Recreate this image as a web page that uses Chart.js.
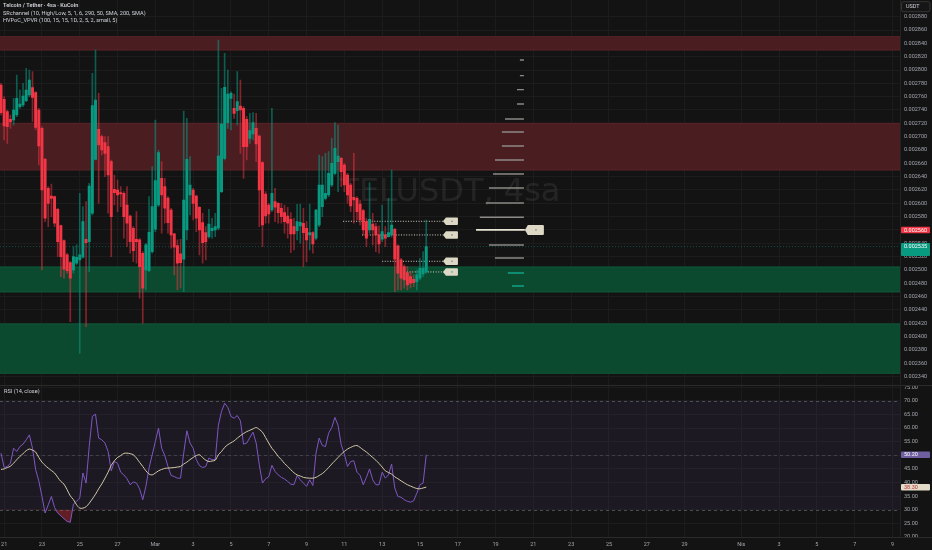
<!DOCTYPE html>
<html><head><meta charset="utf-8">
<script src="https://cdn.jsdelivr.net/npm/chart.js@4/dist/chart.umd.min.js"></script>
<style>html,body{margin:0;padding:0;background:#131313;overflow:hidden}canvas{display:block}</style>
</head><body>
<canvas id="c" width="932" height="550"></canvas>
<script>
// ---------- DATA (TELUSDT, 4h, KuCoin) ----------
const openVals = [0.0027775,0.002756,0.0027375,0.002726,0.002725,0.0027325,0.002745,0.0027475,0.002754,0.0027625,
0.0027735,0.002766,0.00274,0.0027125,0.002666,0.0026225,0.002611,0.00261,0.002591,0.0025665,
0.002544,0.0025225,0.002511,0.0025,0.00251,0.002515,0.002519,0.002546,0.0025425,0.002585,
0.002666,0.002711,0.0027,0.002691,0.002685,0.0026625,0.002621,0.00262,0.002616,0.002615,
0.0025975,0.002581,0.0025625,0.002546,0.002545,0.002525,0.0025,0.002499,0.0025275,0.002561,
0.0025975,0.0026375,0.002625,0.002608,0.00259,0.002554,0.0025365,0.002524,0.002516,0.00256,
0.0026125,0.00262,0.002611,0.002594,0.002571,0.002556,0.00255,0.002559,0.00256,0.0025625,
0.0026175,0.0026675,0.002721,0.0027575,0.0027425,0.002739,0.002746,0.0027425,0.002726,0.0026975,
0.002704,0.0027125,0.002701,0.002661,0.002614,0.0025975,0.00259,0.0026025,0.0026,0.0025925,
0.002586,0.002581,0.002576,0.002565,0.002559,0.002566,0.00257,0.0025625,0.0025525,0.002556,
0.0025475,0.0025675,0.002595,0.0026075,0.0026125,0.0026275,0.002645,0.0026625,0.0026675,0.0026575,
0.0026425,0.0026275,0.002609,0.0026075,0.002599,0.002589,0.0025725,0.00256,0.002569,0.002565,
0.0025525,0.002546,0.0025525,0.00255,0.0025525,0.002561,0.002536,0.002515,0.002505,0.002496,
0.00249,0.002486,0.0024825,0.0024875,0.002494,0.0024975];
const highVals = [0.00278,0.00276,0.00274,0.0027325,0.0027575,0.0027925,0.00277,0.00278,0.0028025,0.0028,
0.0027975,0.0027675,0.0027425,0.002715,0.0026675,0.002625,0.002629,0.002611,0.0025925,0.0025675,
0.002545,0.002525,0.0025125,0.002535,0.0025375,0.002615,0.002595,0.0026025,0.00263,0.002795,
0.00283,0.002765,0.0027025,0.0027,0.0027,0.002665,0.0026425,0.002635,0.002625,0.0026175,
0.002625,0.0025825,0.002565,0.0025875,0.0025475,0.0025275,0.00254,0.00261,0.002655,0.002725,
0.00268,0.0026625,0.0026375,0.00261,0.0025925,0.002555,0.002545,0.002546,0.0027385,0.0027275,
0.00267,0.0026225,0.0026125,0.002595,0.002585,0.002565,0.002591,0.0025775,0.002585,0.002845,
0.0027725,0.002825,0.0028,0.0027675,0.002764,0.0027975,0.002785,0.002745,0.00273,0.002735,
0.002736,0.002735,0.0027025,0.0026625,0.0026175,0.0026,0.0027425,0.0026225,0.002601,0.0026,
0.0025975,0.002594,0.002586,0.0025775,0.0025985,0.002599,0.0025925,0.0025725,0.002599,0.0025575,
0.002591,0.0026725,0.00267,0.002675,0.0026775,0.0026975,0.002721,0.0027175,0.002669,0.00266,
0.002645,0.00263,0.002675,0.00261,0.002605,0.002591,0.0025775,0.002631,0.002585,0.00257,
0.002566,0.0025975,0.002565,0.0026075,0.00265,0.0025625,0.0025375,0.0025175,0.0025075,0.002505,
0.0024975,0.0024925,0.0025,0.0025175,0.0025275,0.002575];
const lowVals = [0.0027325,0.002695,0.00269,0.0027125,0.0027175,0.00273,0.0027425,0.002745,0.0027525,0.00276,
0.0027225,0.00271,0.0026575,0.0025,0.0025725,0.002565,0.00258,0.002565,0.00252,0.00249,
0.0024875,0.002495,0.0024225,0.002495,0.0025075,0.002375,0.0025175,0.002415,0.0024975,0.0025825,
0.002665,0.0026,0.0026725,0.00264,0.002585,0.00252,0.0025975,0.0025875,0.002595,0.0025475,
0.002535,0.002525,0.0025125,0.00251,0.0024575,0.00242,0.00247,0.0024975,0.002525,0.0025575,
0.002595,0.002555,0.00257,0.002555,0.0025325,0.0024925,0.00247,0.0024725,0.0024675,0.002545,
0.0025825,0.002575,0.0025575,0.0025225,0.00251,0.002515,0.0025475,0.0025475,0.00255,0.00256,
0.002616,0.002665,0.0027125,0.00271,0.0027275,0.0027175,0.002675,0.0026375,0.002665,0.00269,
0.002695,0.0026625,0.002565,0.002535,0.00257,0.00257,0.0025875,0.0025725,0.00257,0.00257,
0.002555,0.0025475,0.002526,0.00253,0.002545,0.00254,0.002505,0.0025125,0.00253,0.002525,
0.002545,0.002565,0.00258,0.002605,0.00261,0.002625,0.0026425,0.0026175,0.002625,0.0026175,
0.0026,0.0025875,0.00257,0.002575,0.0025675,0.0025525,0.002535,0.002555,0.0025375,0.0025275,
0.002525,0.0025425,0.002535,0.002549,0.002549,0.0024675,0.00247,0.00247,0.0024725,0.00247,
0.0024725,0.002475,0.00247,0.002485,0.00249,0.002495];
const closeVals = [0.002736,0.002716,0.002715,0.002722,0.00274,0.0027575,0.002749,0.002761,0.00277,0.002785,
0.002759,0.002714,0.002686,0.00262,0.0025775,0.0026,0.0026075,0.00257,0.0025425,0.00252,
0.002501,0.002499,0.0024875,0.00252,0.002519,0.0025225,0.0025725,0.002541,0.002626,0.0027465,
0.002755,0.0026875,0.00268,0.002675,0.0026425,0.00258,0.002616,0.0026125,0.002614,0.00258,
0.00257,0.0025425,0.002529,0.0025425,0.002505,0.0024725,0.0025375,0.0025565,0.002595,0.002634,
0.002676,0.0026125,0.0025925,0.002571,0.0025525,0.002534,0.00251,0.002511,0.002605,0.002666,
0.0026275,0.0026,0.0025775,0.00256,0.002541,0.0025425,0.002569,0.0025625,0.002565,0.002671,
0.002719,0.002774,0.002764,0.002765,0.002735,0.0027525,0.00274,0.002685,0.002685,0.002709,
0.002721,0.002689,0.00262,0.0025675,0.002581,0.002584,0.002615,0.002594,0.002586,0.00258,
0.0025725,0.00257,0.002554,0.002554,0.0025725,0.0025715,0.002556,0.002545,0.002556,0.002539,
0.00259,0.0026275,0.0026275,0.002615,0.002645,0.00266,0.0026825,0.002671,0.0026475,0.0026275,
0.0026125,0.002596,0.002605,0.0025875,0.002575,0.00256,0.0025475,0.002576,0.00256,0.0025525,
0.002539,0.0025575,0.0025475,0.002556,0.0025675,0.002516,0.002495,0.0024875,0.002485,0.0024775,
0.00248,0.002481,0.0024925,0.0025025,0.0025025,0.002535];
const rsiVals = [50.8,45.5,45.9,47.1,52.6,51.4,53.2,54.1,55.7,57.5,
52.6,44.7,40.6,34.9,28.8,31.8,34.9,30.9,28.8,27.8,
26.7,25.7,25.4,32.1,33.1,34.3,43.5,39.8,53.2,64.3,
65.1,56.3,55.7,54.5,51.4,44.3,47.7,47.1,43.8,42.8,
41.4,39.2,40.2,39.8,37.7,33.7,38.6,45.3,50.2,55.1,
60.0,52.6,49.9,45.9,42.6,42.2,41.6,41.6,50.8,59.0,
54.5,52.6,48.4,46.2,45.5,45.9,49.0,48.4,48.4,61.0,
66.1,69.1,67.6,64.3,63.6,64.6,62.7,54.1,54.5,56.5,
58.5,54.5,46.5,39.8,41.4,42.1,46.3,44.1,42.8,41.9,
41.3,40.4,39.4,39.2,42.6,41.0,39.8,38.6,41.0,38.9,
50.8,56.3,53.6,53.2,58.1,60.2,63.9,61.0,53.9,50.4,
45.9,47.7,48.0,43.8,42.6,39.2,41.9,45.0,41.0,39.2,
39.2,43.8,41.6,42.8,46.8,38.0,34.9,34.6,33.7,33.1,
32.8,33.3,36.1,39.2,39.8,50.2];
const rsiMaVals = [44.8,45.0,45.5,46.0,47.1,48.4,49.6,50.6,51.7,52.3,
51.9,51.2,49.2,47.5,46.3,45.3,44.4,43.5,41.9,40.4,
39.4,37.3,35.1,33.7,31.8,30.6,30.6,31.1,32.4,34.0,
35.7,37.7,39.5,41.6,43.8,46.3,48.0,49.2,49.9,50.7,
50.8,50.6,50.2,49.0,47.4,45.9,44.3,43.1,42.8,43.5,
44.3,44.8,45.2,45.3,45.4,45.5,45.7,45.9,46.8,47.5,
48.4,49.2,49.9,50.2,49.2,48.2,47.7,47.9,48.2,50.2,
51.4,52.9,53.9,54.6,55.3,56.3,57.2,58.0,58.7,59.2,
59.7,60.2,59.5,58.5,56.5,54.5,52.6,51.2,49.6,48.4,
47.0,45.9,44.7,43.6,42.8,42.4,41.9,41.7,41.6,41.6,
41.9,42.6,43.3,44.3,45.5,46.8,48.0,49.2,50.4,51.4,
52.3,52.9,53.4,53.6,52.9,52.0,51.2,50.2,49.2,48.2,
47.0,45.7,44.3,43.7,43.1,42.1,41.4,40.6,39.9,39.2,
38.7,38.2,37.8,37.7,38.0,38.3];

// support / resistance zones [low, high]
const resistanceZones = [[0.00283, 0.00285], [0.00265, 0.00272]];
const supportZones = [[0.002467, 0.0025045], [0.002345, 0.002419]];
// dotted levels: bar where they start, and price
const srStartBar = [108.6, 114.6, 121, 128.9];
const srPrice = [0.002573, 0.0025525, 0.002513, 0.002497];
// volume profile levels and relative volume (in bar widths)
const vpPrice = [0.002815,0.0027915,0.0027705,0.002749,0.0027265,0.002707,0.002686,0.002665,0.002644,0.002623,0.0026005,0.002579,0.00256,0.0025375,0.002518,0.0024955,0.002476];
const vpVolume = [1.27,1.27,2.2,2.2,6.0,7.0,7.0,9.2,9.8,11.1,12.1,14.0,15.2,11.1,9.2,5.1,3.8];
const pocPrice = 0.00256;

// axis ticks
const priceTicks = [0.00234,0.00236,0.00238,0.0024,0.00242,0.00244,0.00246,0.00248,0.0025,0.00252,0.00254,0.00256,0.00258,0.0026,0.00262,0.00264,0.00266,0.00268,0.0027,0.00272,0.00274,0.00276,0.00278,0.0028,0.00282,0.00284,0.00286,0.00288];
const rsiTicks = [20,25,30,35,40,45,50,55,60,65,70,75];
const xTickDays = [0,2,4,6,8,10,12,14,16,18,20,22,24,26,28,30,32,34,36,39,41,43,45,47];
const xTickLabels = ['21','23','25','27','Mar','3','5','7','9','11','13','15','17','19','21','23','25','27','29','Nis','3','5','7','9'];
const legendLines = ['Telcoin / Tether · 4sa · KuCoin','SRchannel (10, High/Low, 5, 1, 6, 290, 50, SMA, 200, SMA)','HVPoC_VPVR (100, 15, 15, 1D, 2, 5, 2, small, 5)'];

// ---------- LAYOUT / STYLE ----------
const X_MIN = -0.32, X_MAX = 285.39;
const P_MIN = 0.0023281, P_MAX = 0.00290505;
const R_MIN = 20, R_MAX = 76;
const BARS_PER_DAY = 6, FIRST_DAY_BAR = 1;
const SR_LABEL_OFFSET = 5.3, VP_ANCHOR_OFFSET = 31;
const UP = '#089981', DOWN = '#f23645';
const FONT = 'Roboto';
const TXT = '#a3a6af';

const N = closeVals.length;
const lastBar = N - 1;
const srEnd = lastBar + SR_LABEL_OFFSET;
const vpAnchor = lastBar + VP_ANCHOR_OFFSET;
const isUp = closeVals.map((c, i) => c >= openVals[i]);

const datasets = [];
function addZone(range, fill, edge) {
  datasets.push({type:'line', yAxisID:'y', data:[{x:X_MIN,y:range[1]},{x:X_MAX,y:range[1]}], borderColor:edge, borderWidth:1, pointRadius:0, fill:false, order:20});
  datasets.push({type:'line', yAxisID:'y', data:[{x:X_MIN,y:range[0]},{x:X_MAX,y:range[0]}], borderColor:edge, borderWidth:1, pointRadius:0, backgroundColor:fill, fill:'-1', order:20});
}
resistanceZones.forEach(z => addZone(z, '#4a1d21', '#5a2428'));
supportZones.forEach(z => addZone(z, '#0c4a2f', '#0f5a3a'));

// current price line
datasets.push({type:'line', yAxisID:'y', data:[{x:X_MIN,y:closeVals[lastBar]},{x:X_MAX,y:closeVals[lastBar]}], borderColor:'rgba(8,153,129,0.45)', borderWidth:1, borderDash:[1,2], pointRadius:0, order:15});

// volume profile
vpPrice.forEach((p, k) => {
  const poc = p === pocPrice;
  const col = poc ? '#e9e4d4' : (p < supportZones[0][1] ? '#10a58a' : '#8c8a86');
  datasets.push({type:'line', yAxisID:'y', data:[{x:vpAnchor - vpVolume[k], y:p},{x:vpAnchor + (poc ? 0.3 : 0), y:p}], borderColor:col, borderWidth: poc ? 1.8 : 1.4, pointRadius:0, order:8});
});

// dotted S/R levels
srPrice.forEach((p, k) => {
  datasets.push({type:'line', yAxisID:'y', data:[{x:srStartBar[k], y:p},{x:srEnd, y:p}], borderColor:'#d5d0c2', borderWidth:1, borderDash:[1,1.6], pointRadius:0, order:6});
});

// candles
datasets.push({type:'bar', yAxisID:'y', grouped:false, order:4, barThickness:1,
  data: closeVals.map((c, i) => ({x:i, y:[lowVals[i], highVals[i]]})),
  backgroundColor: isUp.map(u => u ? 'rgba(8,153,129,0.55)' : 'rgba(242,54,69,0.5)')});
datasets.push({type:'bar', yAxisID:'y', grouped:false, order:3, barThickness:2.3, minBarLength:1,
  data: closeVals.map((c, i) => ({x:i, y:[openVals[i], c]})),
  backgroundColor: isUp.map(u => u ? UP : DOWN)});

// RSI
datasets.push({type:'line', yAxisID:'yr', order:2, data: rsiVals.map((v, i) => ({x:i, y:v})),
  borderColor:'#7e57c2', borderWidth:1, pointRadius:0, tension:0,
  fill:{target:{value:30}, above:'rgba(0,0,0,0)', below:'rgba(242,54,69,0.35)'}});
datasets.push({type:'line', yAxisID:'yr', order:1, data: rsiMaVals.map((v, i) => ({x:i, y:v})),
  borderColor:'#d3c9a6', borderWidth:1, pointRadius:0, tension:0.3, fill:false});

function roundRect(ctx, x, y, w, h, r) {
  ctx.beginPath();
  ctx.moveTo(x + r, y); ctx.lineTo(x + w - r, y); ctx.quadraticCurveTo(x + w, y, x + w, y + r);
  ctx.lineTo(x + w, y + h - r); ctx.quadraticCurveTo(x + w, y + h, x + w - r, y + h);
  ctx.lineTo(x + r, y + h); ctx.quadraticCurveTo(x, y + h, x, y + h - r);
  ctx.lineTo(x, y + r); ctx.quadraticCurveTo(x, y, x + r, y); ctx.closePath();
}
function tag(ctx, x, yc, w, h, fill) {
  const a = 3;
  ctx.beginPath();
  ctx.moveTo(x, yc); ctx.lineTo(x + a, yc - h / 2); ctx.lineTo(x + w - 1, yc - h / 2);
  ctx.quadraticCurveTo(x + w, yc - h / 2, x + w, yc - h / 2 + 1);
  ctx.lineTo(x + w, yc + h / 2 - 1); ctx.quadraticCurveTo(x + w, yc + h / 2, x + w - 1, yc + h / 2);
  ctx.lineTo(x + a, yc + h / 2); ctx.closePath();
  ctx.fillStyle = fill; ctx.fill();
}
function badge(ctx, yc, h, fill, text, color) {
  roundRect(ctx, 901, yc - h / 2, 29, h, 1);
  ctx.fillStyle = fill; ctx.fill();
  ctx.fillStyle = color; ctx.font = '5.5px ' + FONT; ctx.textAlign = 'left'; ctx.textBaseline = 'middle';
  ctx.fillText(text, 904, yc + 0.3);
}

const panePlugin = {
  id: 'panes',
  beforeDraw(chart) {
    const c = chart.ctx; c.save(); c.fillStyle = '#131313'; c.fillRect(0, 0, chart.width, chart.height); c.restore();
  },
  beforeDatasetsDraw(chart) {
    const {ctx, chartArea: a, scales: {y, yr}} = chart;
    const y70 = yr.getPixelForValue(70), y30 = yr.getPixelForValue(30), y50 = yr.getPixelForValue(50);
    ctx.save();
    ctx.fillStyle = 'rgba(126,87,194,0.09)';
    ctx.fillRect(a.left, y70, a.right - a.left, y30 - y70);
    ctx.lineWidth = 1; ctx.setLineDash([3, 3]);
    ctx.strokeStyle = 'rgba(120,123,134,0.55)';
    [y70, y30].forEach(v => { ctx.beginPath(); ctx.moveTo(a.left, Math.round(v) + 0.5); ctx.lineTo(a.right, Math.round(v) + 0.5); ctx.stroke(); });
    ctx.strokeStyle = 'rgba(120,123,134,0.35)';
    ctx.beginPath(); ctx.moveTo(a.left, Math.round(y50) + 0.5); ctx.lineTo(a.right, Math.round(y50) + 0.5); ctx.stroke();
    ctx.setLineDash([]);
    // watermark
    ctx.font = '32px "DejaVu Sans"'; ctx.fillStyle = 'rgba(255,255,255,0.075)';
    ctx.textAlign = 'center'; ctx.textBaseline = 'middle';
    ctx.fillText('TELUSDT, 4sa', (a.left + a.right) / 2, (y.top + y.bottom) / 2);
    // separators
    ctx.strokeStyle = '#2b2b2b';
    ctx.beginPath(); ctx.moveTo(0, Math.round(y.bottom) + 0.5); ctx.lineTo(chart.width, Math.round(y.bottom) + 0.5); ctx.stroke();
    ctx.beginPath(); ctx.moveTo(0, Math.round(a.bottom) + 0.5); ctx.lineTo(chart.width, Math.round(a.bottom) + 0.5); ctx.stroke();
    ctx.strokeStyle = '#222';
    ctx.beginPath(); ctx.moveTo(Math.round(a.right) + 0.5, 0); ctx.lineTo(Math.round(a.right) + 0.5, a.bottom); ctx.stroke();
    ctx.restore();
  },
  afterDatasetsDraw(chart) {
    const {ctx, scales: {x, y}} = chart;
    ctx.save();
    const lx = x.getPixelForValue(srEnd);
    srPrice.forEach((p, k) => {
      const yc = y.getPixelForValue(p);
      tag(ctx, lx, yc, 15, 7.5, '#ddd8c6');
      ctx.fillStyle = k === srPrice.length - 1 ? UP : '#6a665c';
      ctx.fillRect(lx + 8.5, yc - 0.6, 1.2, 1.2);
    });
    const px = x.getPixelForValue(vpAnchor + 0.3), py = y.getPixelForValue(pocPrice);
    tag(ctx, px, py, 19, 10, '#ddd8c6');
    ctx.fillStyle = '#6a665c'; ctx.fillRect(px + 10.5, py - 0.6, 1.2, 1.2);
    ctx.restore();
  },
  afterDraw(chart) {
    const {ctx, scales: {y, yr}} = chart;
    ctx.save();
    ctx.textAlign = 'left'; ctx.textBaseline = 'middle';
    ctx.fillStyle = '#d1d4dc';
    ctx.font = '600 5.6px ' + FONT; ctx.fillText(legendLines[0], 3, 6);
    ctx.font = '5.6px ' + FONT; ctx.fillText(legendLines[1], 3, 13.5);
    ctx.fillText(legendLines[2], 3, 20.5);
    ctx.fillText('RSI (14, close)', 4, yr.top + 7.5);
    // USDT box
    roundRect(ctx, 901.5, 1.7, 28.5, 10, 2);
    ctx.fillStyle = '#161616'; ctx.fill(); ctx.strokeStyle = '#363636'; ctx.lineWidth = 1; ctx.stroke();
    ctx.fillStyle = '#d1d4dc'; ctx.font = '5.5px ' + FONT; ctx.fillText('USDT', 906, 7);
    // price badges
    badge(ctx, y.getPixelForValue(pocPrice), 6.5, DOWN, pocPrice.toFixed(6), '#ffffff');
    const cy = y.getPixelForValue(closeVals[lastBar]);
    roundRect(ctx, 901, cy - 3.5, 29, 13, 1); ctx.fillStyle = UP; ctx.fill();
    ctx.fillStyle = '#ffffff'; ctx.font = '5.5px ' + FONT; ctx.fillText(closeVals[lastBar].toFixed(6), 904, cy + 0.3);
    // RSI badges
    badge(ctx, yr.getPixelForValue(rsiVals[lastBar]), 6.5, '#6f5fa0', rsiVals[lastBar].toFixed(2), '#ffffff');
    badge(ctx, yr.getPixelForValue(rsiMaVals[lastBar]), 6.5, '#e2dbc8', rsiMaVals[lastBar].toFixed(2), '#c2303c');
    ctx.restore();
  }
};

function noPad(s) { s.paddingTop = 0; s.paddingBottom = 0; s.paddingLeft = 0; s.paddingRight = 0; }
const tickFont = {size: 5.5, family: FONT};
new Chart(document.getElementById('c'), {
  type: 'bar',
  data: {datasets},
  options: {
    responsive: false, animation: false,
    layout: {padding: 0, autoPadding: false},
    plugins: {legend: {display: false}, tooltip: {enabled: false}},
    scales: {
      x: {type: 'linear', min: X_MIN, max: X_MAX, offset: false,
        grid: {color: '#1c1c1c', offset: false, drawTicks: false}, border: {display: false},
        afterBuildTicks: s => { s.ticks = xTickDays.map(d => ({value: FIRST_DAY_BAR + BARS_PER_DAY * d})); },
        afterFit: s => { s.height = 13; noPad(s); },
        ticks: {autoSkip: false, maxRotation: 0, padding: 4, color: TXT, font: tickFont, callback: (v, i) => xTickLabels[i]}},
      y: {type: 'linear', position: 'right', stack: 'pane', stackWeight: 384.5, min: P_MIN, max: P_MAX,
        grid: {color: '#1c1c1c', drawTicks: false}, border: {display: false},
        afterBuildTicks: s => { s.ticks = priceTicks.map(v => ({value: v})); },
        afterFit: s => { s.width = 32; noPad(s); },
        ticks: {autoSkip: false, padding: 4, color: TXT, font: tickFont, callback: v => v.toFixed(6)}},
      yr: {type: 'linear', position: 'right', stack: 'pane', stackWeight: 152.5, min: R_MIN, max: R_MAX,
        grid: {color: '#1c1c1c', drawTicks: false}, border: {display: false},
        afterBuildTicks: s => { s.ticks = rsiTicks.map(v => ({value: v})); },
        afterFit: s => { s.width = 32; noPad(s); },
        ticks: {autoSkip: false, padding: 4, color: TXT, font: tickFont, callback: v => v.toFixed(2)}}
    }
  },
  plugins: [panePlugin]
});
</script>
</body></html>
